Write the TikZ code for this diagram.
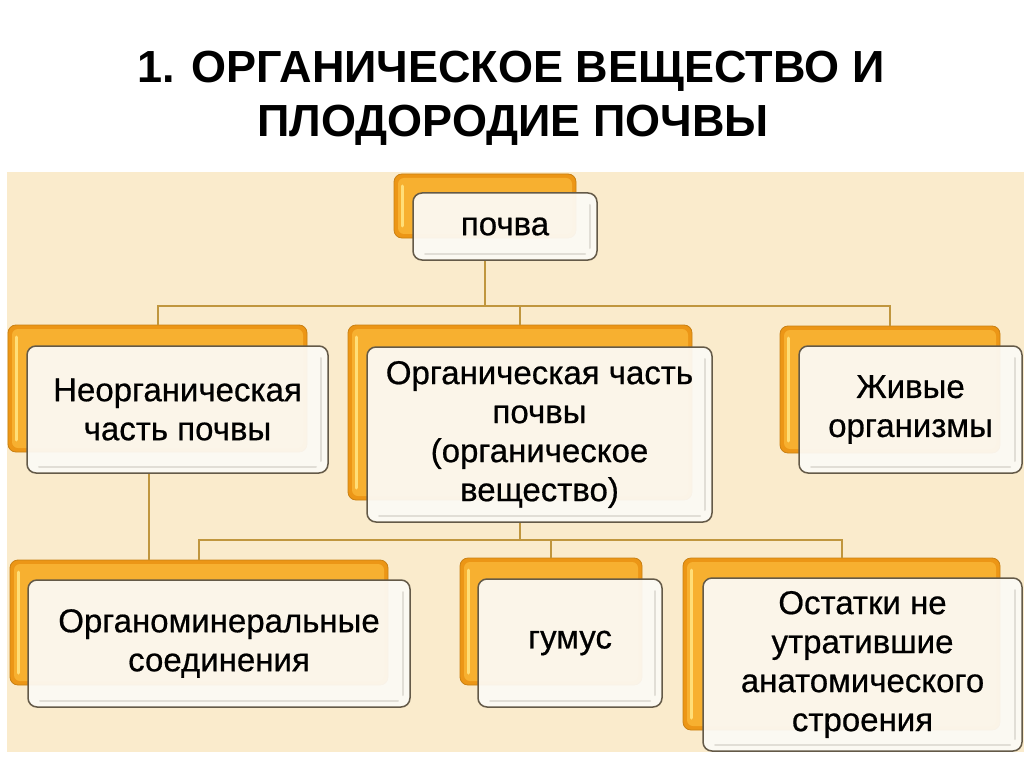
\documentclass[tikz,border=0pt]{standalone}
\usepackage{fontspec}
\setmainfont{Liberation Sans}
\newfontfamily\bxfam[FakeBold=0.6]{Liberation Sans}
\definecolor{panel}{RGB}{250,235,204}
\definecolor{orOut}{RGB}{236,150,22}
\definecolor{orIn}{RGB}{247,176,48}
\definecolor{orHi}{RGB}{255,222,120}
\definecolor{wEdge}{RGB}{100,90,72}
\definecolor{wFill}{RGB}{252,250,245}
\definecolor{wBev}{RGB}{225,222,214}
\definecolor{connc}{RGB}{192,150,62}
\newcommand\bxfont{\bxfam\fontsize{33}{39}\selectfont}
\newcommand\ttlfont{\fontsize{45}{54}\selectfont\bfseries}
\tikzset{
  obox/.style={rectangle, rounded corners=8pt, fill=orOut, draw=orOut!85!black,
    line width=0.8pt, inner sep=0pt,
    path picture={
      \fill[orIn, rounded corners=6pt]
        ([xshift=4pt,yshift=-4pt]path picture bounding box.north west) rectangle
        ([xshift=-4pt,yshift=4pt]path picture bounding box.south east);
      \draw[orHi, line width=3pt, line cap=round]
        ([xshift=8pt,yshift=-12pt]path picture bounding box.north west) --
        ([xshift=8pt,yshift=12pt]path picture bounding box.south west);
    }},
  wbox/.style={rectangle, rounded corners=9pt, fill=wFill, fill opacity=0.94,
    text opacity=1, draw=wEdge, line width=1.5pt, inner sep=0pt, align=center,
    font=\bxfont,
    path picture={
      \draw[wBev, line width=2pt, line cap=round]
        ([xshift=-7pt,yshift=-12pt]path picture bounding box.north east) --
        ([xshift=-7pt,yshift=12pt]path picture bounding box.south east);
      \draw[wBev, line width=2pt, line cap=round]
        ([xshift=12pt,yshift=6pt]path picture bounding box.south west) --
        ([xshift=-12pt,yshift=6pt]path picture bounding box.south east);
    }},
  link/.style={draw=connc, line width=2pt},
}
\begin{document}
\begin{tikzpicture}[x=1pt,y=-1pt]
\useasboundingbox (0,0) rectangle (1024,767);
\fill[white] (0,0) rectangle (1024,767);
\fill[panel] (7,172) rectangle (1024,752);

\node[anchor=base, font=\ttlfont] (title1) at (511,83) {1. ОРГАНИЧЕСКОЕ ВЕЩЕСТВО И};
\node[anchor=base, font=\ttlfont] (title2) at (513,137) {ПЛОДОРОДИЕ ПОЧВЫ};

% back (orange) boxes
\node[obox, minimum width=182pt, minimum height=64pt]  (pochvaB) at (485,206) {};
\node[obox, minimum width=299pt, minimum height=127pt] (neorgB)  at (157.5,388.5) {};
\node[obox, minimum width=344pt, minimum height=175pt] (orgB)    at (520,412.5) {};
\node[obox, minimum width=220pt, minimum height=127pt] (zhivB)   at (890,389.5) {};
\node[obox, minimum width=378pt, minimum height=125pt] (ominB)   at (199,622.5) {};
\node[obox, minimum width=182pt, minimum height=127pt] (gumB)    at (551,621.5) {};
\node[obox, minimum width=317pt, minimum height=172pt] (ostB)    at (841.5,644) {};

% front (white) boxes
\node[wbox, minimum width=184pt, minimum height=67pt]  (pochva) at (505,226.5) {почва};
\node[wbox, minimum width=301pt, minimum height=127pt] (neorg)  at (177.5,409.5) {Неорганическая\\часть почвы};
\node[wbox, minimum width=345pt, minimum height=175pt] (org)    at (539.5,434.5) {Органическая часть\\почвы\\(органическое\\вещество)};
\node[wbox, minimum width=223pt, minimum height=127pt] (zhiv)   at (910.5,409.5) {Живые\\организмы};
\node[wbox, minimum width=382pt, minimum height=127pt] (omin)   at (219,643.5) {Органоминеральные\\соединения};
\node[wbox, minimum width=184pt, minimum height=128pt] (gum)    at (570,643) {гумус};
\node[wbox, minimum width=319pt, minimum height=173pt] (ost)    at (862.5,664.5) {Остатки не\\утратившие\\анатомического\\строения};

% connectors
\coordinate (topbar) at (0,306);
\coordinate (midbar) at (0,540);
\coordinate (lnk) at (149,0);
\draw[link] (pochva.south -| pochvaB) -- (pochvaB |- topbar);
\draw[link] (neorgB.north) |- (zhivB |- topbar) -- (zhivB.north);
\draw[link] (orgB |- topbar) -- (orgB.north);
\draw[link] (org.south -| orgB) -- (orgB |- midbar);
\draw[link] (ominB.north) |- (ostB |- midbar) -- (ostB.north);
\draw[link] (gumB |- midbar) -- (gumB.north);
\draw[link] (neorg.south -| lnk) -- (ominB.north -| lnk);
\end{tikzpicture}
\end{document}
